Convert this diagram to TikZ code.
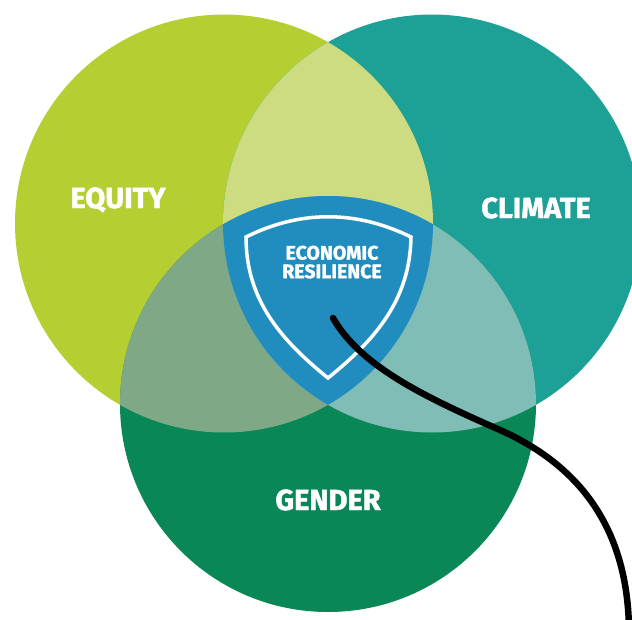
\documentclass[tikz,border=0pt]{standalone}
\usepackage{fontspec}
\setmainfont{Fira Sans}[BoldFeatures={FakeBold=1.6}]
\usepackage{tikz}

\definecolor{EquityGreen}{HTML}{B5CF33}
\definecolor{ClimateTeal}{HTML}{1DA095}
\definecolor{GenderGreen}{HTML}{0A8756}
\definecolor{EquityClimate}{HTML}{CEDC81}
\definecolor{EquityGender}{HTML}{7FA886}
\definecolor{ClimateGender}{HTML}{80BDB7}
\definecolor{ResilienceBlue}{HTML}{218DBF}

\begin{document}
\begin{tikzpicture}[x=1pt, y=-1pt,
		circle label/.style={text=white, inner sep=0pt, text height=20pt, text depth=0pt,
			font=\bfseries\fontsize{29}{30}\selectfont},
		shield label/.style={text=white, inner sep=0pt, align=center, anchor=north,
			font=\bfseries\fontsize{19.5}{18.6}\selectfont},
		shield line/.style={draw=white, line width=3.5pt, line join=miter},
		wire/.style={draw=black, line width=6.5pt, line cap=round}]

	\useasboundingbox (0,0) rectangle (632,619);
	\clip (0,0) rectangle (632,619);

	\coordinate (equity) at (224,223.5);
	\coordinate (climate) at (432,223.5);
	\coordinate (gender) at (328,404);

	\fill[EquityGreen] (equity) circle (209pt);
	\fill[ClimateTeal] (climate) circle (209pt);
	\fill[GenderGreen] (gender) circle (208pt);

	\begin{scope}
		\clip (equity) circle (209pt);
		\fill[EquityClimate] (climate) circle (209pt);
		\fill[EquityGender] (gender) circle (208pt);
	\end{scope}
	\begin{scope}
		\clip (climate) circle (209pt);
		\fill[ClimateGender] (gender) circle (208pt);
		\clip (equity) circle (209pt);
		\fill[ResilienceBlue] (gender) circle (208pt);
	\end{scope}

	\coordinate (shield nw) at (246,237);
	\coordinate (shield ne) at (411,237);
	\coordinate (shield tip) at (328,378);
	\draw[shield line] (shield nw) .. controls (300,210) and (356,210) .. (shield ne)
		.. controls (410,300) and (375,340) .. (shield tip)
		.. controls (281,340) and (246,300) .. cycle;

	\node[circle label] (equity label) at (118,198) {EQUITY};
	\node[circle label] (climate label) at (536,208) {CLIMATE};
	\node[circle label] (gender label) at (328,500) {GENDER};
	\node[shield label] (resilience label) at (332,245.5) {ECONOMIC\\RESILIENCE};

	\coordinate (wire start) at (333,318);
	\coordinate (wire bend) at (500,430);
	\coordinate (wire end) at (629,630);
	\draw[wire] (wire start) .. controls (360,365) and (420,395) .. (wire bend)
		.. controls (590,470) and (628,540) .. (wire end);

\end{tikzpicture}
\end{document}
